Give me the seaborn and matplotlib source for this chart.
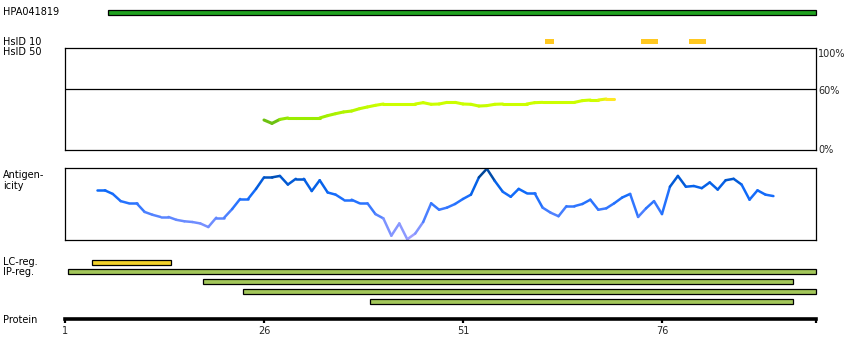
import matplotlib
matplotlib.use("Agg")
import matplotlib.pyplot as plt
import matplotlib.transforms as mtransforms
from matplotlib.colors import LinearSegmentedColormap
import pandas as pd
import seaborn as sns

# residue positions along the protein
protein_end = 95.35
tick_positions = [1, 26, 51, 76]
tick_labels = ["1", "26", "51", "76"]

antibody_name = "HPA041819"
antibody_start = [6.4]
antibody_end = [95.35]

hsid10_start = [61.3, 73.4, 79.4]
hsid10_end = [62.4, 75.5, 81.5]

hsid50_pos = list(range(26, 71))
hsid50_vals = [29.4, 26.1, 30.0, 31.4, 31.4, 31.4, 31.4, 31.4, 33.7, 35.6,
               37.3, 38.2, 40.5, 42.2, 43.8, 45.1, 45.1, 45.1, 45.1, 45.1,
               46.4, 44.8, 45.1, 46.7, 46.7, 45.1, 44.8, 43.1, 43.5, 44.8,
               45.1, 45.1, 45.1, 45.1, 46.4, 46.7, 46.7, 46.7, 46.7, 46.7,
               48.4, 49.0, 49.0, 50.0, 50.0]

antigen_pos = list(range(5, 91))
antigen_vals = [69, 69, 64, 54, 51, 51, 39, 35, 32, 32,
                28, 26, 25, 23, 18, 31, 31, 43, 57, 57,
                71, 87, 87, 89, 77, 85, 85, 68, 83, 66,
                63, 56, 56, 51, 51, 36, 30, 6, 23, 1,
                9, 25, 51, 42, 45, 50, 57, 63, 87, 99,
                82, 67, 60, 71, 65, 65, 45, 38, 33, 47,
                47, 50, 56, 42, 44, 51, 59, 64, 32, 44,
                54, 36, 74, 89, 74, 75, 72, 80, 70, 83,
                85, 77, 56, 69, 63, 61]

lc_start = [4.4]
lc_end = [14.3]

ip_start = [1.4, 18.3, 23.4, 39.3]
ip_end = [95.35, 92.5, 95.35, 92.5]

sns.set_theme(style="white")
plt.rcParams["font.family"] = ["DejaVu Sans"]

W, H = 850, 360
fig = plt.figure(figsize=(8.5, 3.6), dpi=100)
fig.patch.set_facecolor("white")


def px_axes(x0, y0, x1, y1):
    return fig.add_axes([x0 / W, 1 - y1 / H, (x1 - x0) / W, (y1 - y0) / H])


def label(x, y, s):
    fig.text(x / W, 1 - y / H, s, fontsize=7, va="center", ha="left", color="black")


def gradient_line(ax, pos, vals, cmap, lw):
    rows = []
    pal = {}
    for i in range(len(pos) - 1):
        seg = f"s{i}"
        rows.append((seg, pos[i], vals[i]))
        rows.append((seg, pos[i + 1], vals[i + 1]))
        pal[seg] = cmap((vals[i] + vals[i + 1]) / 200)
    df = pd.DataFrame(rows, columns=["seg", "pos", "val"])
    sns.lineplot(data=df, x="pos", y="val", hue="seg", palette=pal, estimator=None,
                 sort=False, legend=False, lw=lw, ax=ax, solid_capstyle="round")
    ax.set_xlabel("")
    ax.set_ylabel("")


# feature tracks (pixel rows on y)
trk = px_axes(65, 0, 816, 360)
trk.set_xlim(1, protein_end)
trk.set_ylim(360, 0)
trk.axis("off")

def bars(starts, ends, y, h, color, edge=True):
    trk.barh([y] * len(starts), [e - s for s, e in zip(starts, ends)], left=starts,
             height=h, color=color, edgecolor="black" if edge else "none",
             linewidth=0.9 if edge else 0, clip_on=False)

bars(antibody_start, antibody_end, 12, 5, "#1fa21f")
bars(hsid10_start, hsid10_end, 41.5, 5, "#ffc820", edge=False)
bars(lc_start, lc_end, 262, 5, "#f3d22a")
for i in range(len(ip_start)):
    bars([ip_start[i]], [ip_end[i]], 271.5 + 10 * i, 5, "#a3c75a")

# HsID 50 box
hs = px_axes(65, 48, 816, 150)
hs.set_xlim(1, protein_end)
hs.set_ylim(0, 100)
hs.axhline(60, color="black", lw=0.9)
gradient_line(hs, hsid50_pos, hsid50_vals,
              LinearSegmentedColormap.from_list("hs", [(0.0, "#3a8c00"), (0.265, "#5aae18"),
                                                      (0.31, "#99ec00"), (0.45, "#ccff00"),
                                                      (0.49, "#ccff00"), (0.5, "#ffe822"),
                                                      (1.0, "#ffe822")]), 2.2)
tr = mtransforms.blended_transform_factory(hs.transAxes, hs.transData)
hs.text(1.003, 99, "100%", transform=tr, fontsize=7, va="top", ha="left")
hs.text(1.003, 58, "60%", transform=tr, fontsize=7, va="center", ha="left")
hs.text(1.003, 0, "0%", transform=tr, fontsize=7, va="center", ha="left")

# antigenicity box
ag = px_axes(65, 168, 816, 240)
ag.set_xlim(1, protein_end)
ag.set_ylim(0, 100)
gradient_line(ag, antigen_pos, antigen_vals,
              LinearSegmentedColormap.from_list("ag", [(0.0, "#a8a4ff"), (0.25, "#6c8cff"),
                                                      (0.5, "#2a74ff"), (0.7, "#0a68f8"),
                                                      (0.85, "#0056cc"), (1.0, "#003a70")]), 1.8)

for a in (hs, ag):
    a.set_xticks([])
    a.set_yticks([])
    for sp in a.spines.values():
        sp.set_color("black")
        sp.set_linewidth(0.9)
        sp.set_visible(True)

# protein axis
pr = px_axes(65, 300, 816, 319)
pr.set_xlim(1, protein_end)
pr.set_yticks([])
pr.patch.set_alpha(0)
for k in ("top", "left", "right"):
    pr.spines[k].set_visible(False)
pr.spines["bottom"].set_linewidth(2.6)
pr.spines["bottom"].set_color("black")
pr.set_xticks(tick_positions + [protein_end])
pr.set_xticklabels(tick_labels + [""])
pr.tick_params(axis="x", direction="out", length=3, width=1.6, color="black",
               labelsize=7, pad=2, bottom=True)

label(3, 12, antibody_name)
label(3, 42, "HsID 10")
label(3, 52, "HsID 50")
label(3, 175, "Antigen-")
label(3, 186, "icity")
label(3, 262, "LC-reg.")
label(3, 272, "IP-reg.")
label(3, 320, "Protein")

fig.savefig("out.png", dpi=100)
